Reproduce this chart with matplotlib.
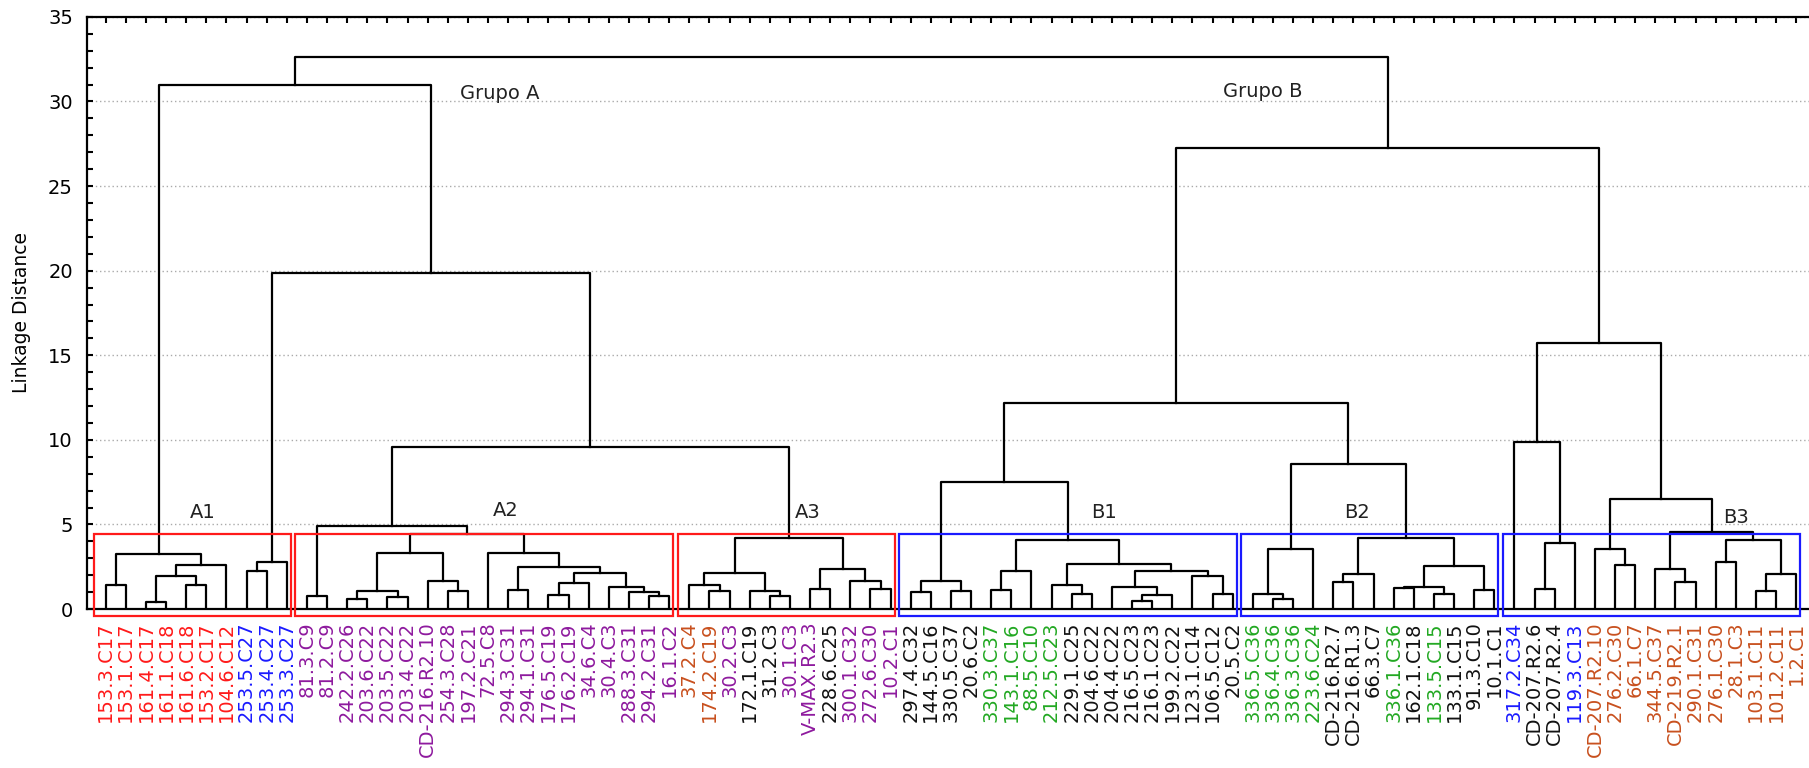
import matplotlib.pyplot as plt
from matplotlib.patches import Rectangle
from matplotlib.ticker import MultipleLocator

plt.rcParams['font.family'] = ['DejaVu Sans']

# ================== LEAVES (left to right) ==================
labels_a1 = ["153.3.C17", "153.1.C17", "161.4.C17", "161.1.C18", "161.6.C18",
             "153.2.C17", "104.6.C12", "253.5.C27", "253.4.C27", "253.3.C27"]
labels_a2 = ["81.3.C9", "81.2.C9", "242.2.C26", "203.6.C22", "203.5.C22",
             "203.4.C22", "CD-216.R2.10", "254.3.C28", "197.2.C21", "72.5.C8",
             "294.3.C31", "294.1.C31", "176.5.C19", "176.2.C19", "34.6.C4",
             "30.4.C3", "288.3.C31", "294.2.C31", "16.1.C2"]
labels_a3 = ["37.2.C4", "174.2.C19", "30.2.C3", "172.1.C19", "31.2.C3",
             "30.1.C3", "V-MAX.R2.3", "228.6.C25", "300.1.C32", "272.6.C30",
             "10.2.C1"]
labels_b1 = ["297.4.C32", "144.5.C16", "330.5.C37", "20.6.C2", "330.3.C37",
             "143.1.C16", "88.5.C10", "212.5.C23", "229.1.C25", "204.6.C22",
             "204.4.C22", "216.5.C23", "216.1.C23", "199.2.C22", "123.1.C14",
             "106.5.C12", "20.5.C2"]
labels_b2 = ["336.5.C36", "336.4.C36", "336.3.C36", "223.6.C24", "CD-216.R2.7",
             "CD-216.R1.3", "66.3.C7", "336.1.C36", "162.1.C18", "133.5.C15",
             "133.1.C15", "91.3.C10", "10.1.C1"]
labels_b3 = ["317.2.C34", "CD-207.R2.6", "CD-207.R2.4", "119.3.C13", "CD-207.R2.10",
             "276.2.C30", "66.1.C7", "344.5.C37", "CD-219.R2.1", "290.1.C31",
             "276.1.C30", "28.1.C3", "103.1.C11", "101.2.C11", "1.2.C1"]

# colour class of each label
classes_a1 = "rrrrrrrbbb"
classes_a2 = "p" * 19
classes_a3 = "oopkkppkppp"
classes_b1 = "kkkkggggkkkkkkkkk"
classes_b2 = "ggggkkkgkgkkk"
classes_b3 = "bkkbooooooooooo"

groups = ["A1", "A2", "A3", "B1", "B2", "B3"]
group_labels = [labels_a1, labels_a2, labels_a3, labels_b1, labels_b2, labels_b3]

# ================== MERGES: [left, right, linkage distance] ==================
# ints are leaf indices in the order above
tree_a1 = [[0, 1, 1.43], [[[2, 3, 0.39], [4, 5, 1.43], 1.93], 6, 2.60], 3.28]
tree_253 = [[7, 8, 2.25], 9, 2.77]
tree_a2 = [[10, 11, 0.76],
           [[[[12, 13, 0.60], [14, 15, 0.74], 1.05], [16, [17, 18, 1.04], 1.68], 3.30],
            [19, [[20, 21, 1.13],
                  [[[22, 23, 0.84], 24, 1.54], [25, [26, [27, 28, 0.78], 0.98], 1.29], 2.10],
                  2.46], 3.30],
            4.41],
           4.90]
tree_a3 = [[[29, [30, 31, 1.04], 1.43], [32, [33, 34, 0.76], 1.04], 2.11],
           [[35, 36, 1.19], [37, [38, 39, 1.19], 1.68], 2.36],
           4.18]
tree_b1 = [[[40, 41, 1.00], [42, 43, 1.04], 1.68],
           [[[44, 45, 1.13], 46, 2.23],
            [[47, [48, 49, 0.90], 1.43],
             [[50, [[51, 52, 0.50], 53, 0.84], 1.29], [54, [55, 56, 0.87], 1.93], 2.23],
             2.66],
            4.06],
           7.53]
tree_b2 = [[[57, [58, 59, 0.60], 0.90], 60, 3.54],
           [[[61, 62, 1.58], 63, 2.07],
            [[[64, 65, 1.27], [66, 67, 0.86], 1.31], [68, 69, 1.13], 2.57],
            4.18],
           8.56]
tree_b3 = [[70, [[71, 72, 1.19], 73, 3.93], 9.90],
           [[74, [75, 76, 2.62], 3.54],
            [[77, [78, 79, 1.58], 2.36],
             [[80, 81, 2.75], [[82, 83, 1.05], 84, 2.07], 4.06],
             4.57],
            6.53],
           15.75]

tree_a = [tree_a1, [tree_253, [tree_a2, tree_a3, 9.55], 19.85], 30.98]
tree_b = [[tree_b1, tree_b2, 12.20], tree_b3, 27.25]
tree = [tree_a, tree_b, 32.60]

# ================== PLOT ==================
labels = sum(group_labels, [])
classes = classes_a1 + classes_a2 + classes_a3 + classes_b1 + classes_b2 + classes_b3
palette = {"r": "#ff1a1a", "b": "#1a1aff", "p": "#8e1a9e", "o": "#c8501e",
           "k": "#111111", "g": "#22a822"}

fig = plt.figure(figsize=(18.09, 7.68), dpi=100)
ax = fig.add_axes([0.048, 0.207, 0.952, 0.771])


def draw(node):
    if isinstance(node, int):
        return node, 0.0
    left, right, h = node
    xl, hl = draw(left)
    xr, hr = draw(right)
    ax.plot([xl, xl, xr, xr], [hl, h, h, hr], color="black", lw=1.6, zorder=3)
    return (xl + xr) / 2, h


draw(tree)

# boxes around the sub-groups
start = 0
for name, leaves in zip(groups, group_labels):
    end = start + len(leaves) - 1
    color = "#ff1a1a" if name.startswith("A") else "#1a1aff"
    ax.add_patch(Rectangle((start - 0.58, -0.44), end - start + 0.78, 4.86,
                           fill=False, edgecolor=color, lw=1.6, clip_on=False, zorder=4))
    start = end + 1

for name, x, y in [("A1", 4.8, 5.7), ("A2", 19.9, 5.8), ("A3", 34.9, 5.7),
                   ("B1", 49.6, 5.7), ("B2", 62.2, 5.7), ("B3", 81.0, 5.4)]:
    ax.text(x, y, name, ha="center", va="center", fontsize=14, color="#222222")
ax.text(19.6, 30.5, "Grupo A", ha="center", va="center", fontsize=14, color="#222222")
ax.text(57.5, 30.6, "Grupo B", ha="center", va="center", fontsize=14, color="#222222")

ax.set_xlim(-0.94, 84.64)
ax.set_ylim(0, 35)
ax.set_xticks(range(len(labels)))
ax.set_xticklabels(labels, rotation=90, fontsize=14)
for lab, c in zip(ax.get_xticklabels(), classes):
    lab.set_color(palette[c])
ax.tick_params(axis="x", bottom=False, top=True, direction="in", length=4, width=1.5, pad=9)

ax.yaxis.set_major_locator(MultipleLocator(5))
ax.yaxis.set_minor_locator(MultipleLocator(1))
ax.tick_params(axis="y", which="both", direction="in", length=4, width=1.5,
               labelsize=14, pad=10, right=False)
ax.set_ylabel("Linkage Distance", fontsize=13.5, labelpad=12)

ax.yaxis.grid(True, linestyle=(0, (1, 2)), color="#aaaaaa", lw=1)
ax.set_axisbelow(True)
ax.spines["right"].set_visible(False)
for s in ["left", "top", "bottom"]:
    ax.spines[s].set_linewidth(1.6)

fig.savefig("out.png", dpi=100)
